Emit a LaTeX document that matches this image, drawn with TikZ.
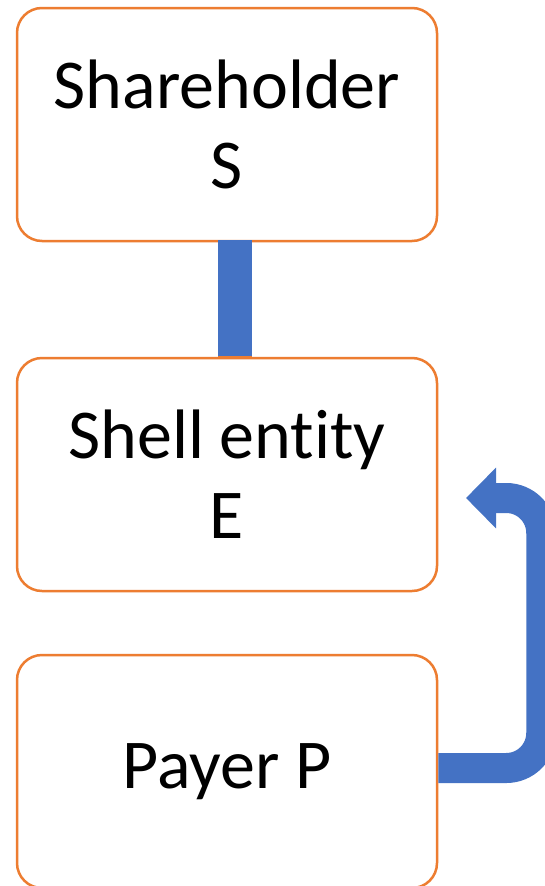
\documentclass[tikz,border=0pt]{standalone}
\usepackage{fontspec}
\setmainfont[RawFeature=-liga]{Carlito}
\usetikzlibrary{arrows.meta}
\definecolor{boxorange}{HTML}{ED7D31}
\definecolor{linkblue}{HTML}{4472C4}
\tikzset{
  entbox/.style={draw=boxorange, line width=2.5pt, fill=white, rounded corners=25pt,
    minimum width=420pt, minimum height=233pt, inner sep=0pt, align=center,
    font=\fontsize{70}{80}\selectfont},
  flow/.style={draw=linkblue, line width=30pt},
}
\begin{document}
\begin{tikzpicture}[x=1pt,y=-1pt]
\useasboundingbox (0,0) rectangle (545,886);
\clip (0,0) rectangle (545,886);
\fill[white] (0,0) rectangle (545,886);
\node[entbox] (s) at (227,124.5) {Shareholder\\S};
\node[entbox] (e) at (227,474.5) {Shell entity\\E};
\node[entbox] (p) at (227,771.5) {Payer P};
\fill[linkblue] ([xshift=-9pt,yshift=2pt]s.south) rectangle ([xshift=25pt]e.north);
\draw[boxorange, line width=2.5pt] ([xshift=-9pt]e.north) -- ([xshift=25pt]e.north);
\coordinate (tip) at (466,498);
\draw[flow, rounded corners=35pt, -{Triangle[length=30pt,width=59pt]}]
  ([yshift=3.5pt]p.east) -- ++(103,0) |- (tip);
\end{tikzpicture}
\end{document}
